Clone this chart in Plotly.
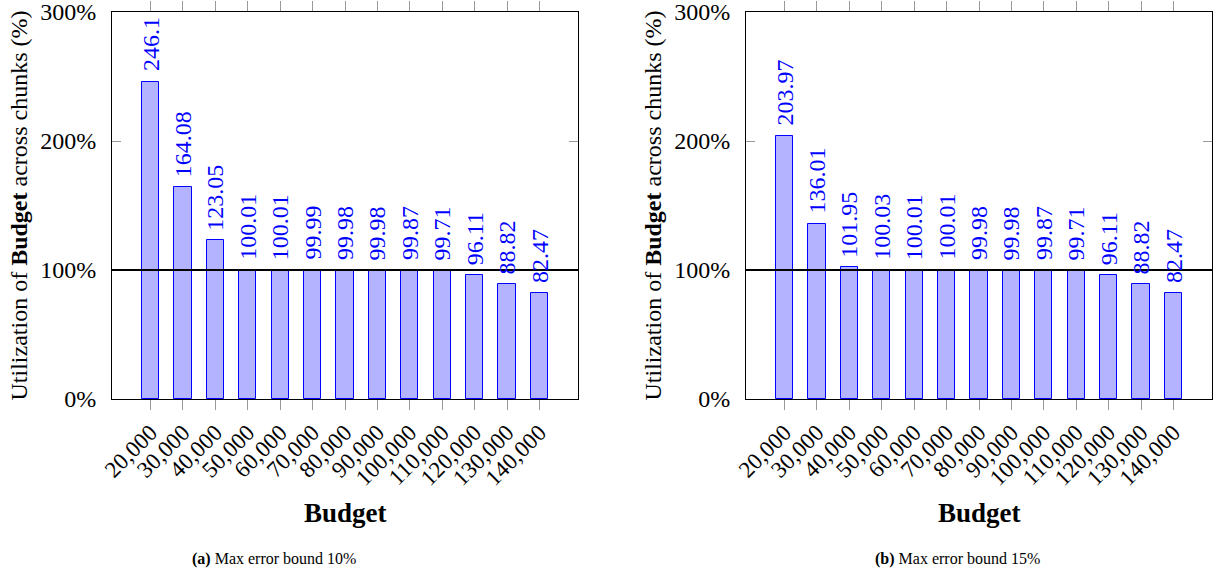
import plotly.graph_objects as go

budgets = ["20,000", "30,000", "40,000", "50,000", "60,000", "70,000", "80,000",
           "90,000", "100,000", "110,000", "120,000", "130,000", "140,000"]
util_10 = [246.1, 164.08, 123.05, 100.01, 100.01, 99.99, 99.98, 99.98, 99.87, 99.71, 96.11, 88.82, 82.47]
labels_10 = ["246.1", "164.08", "123.05", "100.01", "100.01", "99.99", "99.98", "99.98", "99.87", "99.71", "96.11", "88.82", "82.47"]
util_15 = [203.97, 136.01, 101.95, 100.03, 100.01, 100.01, 99.98, 99.98, 99.87, 99.71, 96.11, 88.82, 82.47]
labels_15 = ["203.97", "136.01", "101.95", "100.03", "100.01", "100.01", "99.98", "99.98", "99.87", "99.71", "96.11", "88.82", "82.47"]
y_ticks = [0, 100, 200, 300]
y_ticktext = ["0%", "100%", "200%", "300%"]
captions = ["<b>(a)</b> Max error bound 10%", "<b>(b)</b> Max error bound 15%"]
reference_line = 100

FONT = "Liberation Serif, Times New Roman, serif"
W, H = 1215, 572
ML, MR, MT, MB = 112, 3, 12, 173
PW, PH = W - ML - MR, H - MT - MB
idx = list(range(len(budgets)))


def px(x):
    return (x - ML) / PW


def py(y):
    return (H - MB - y) / PH


fig = go.Figure()

panels = [
    (util_10, labels_10, "x", "y", (112, 578), 274, captions[0]),
    (util_15, labels_15, "x2", "y2", (746, 1212), 957, captions[1]),
]

for vals, labs, xa, ya, (x0, x1), capx, cap in panels:
    fig.add_trace(go.Bar(
        x=idx, y=vals, xaxis=xa, yaxis=ya, width=0.53,
        marker=dict(color="#b3b3ff", line=dict(color="#0000ff", width=1)),
        showlegend=False, hoverinfo="skip",
    ))
    for i, (v, t) in enumerate(zip(vals, labs)):
        fig.add_annotation(
            x=i, y=v, xref=xa, yref=ya, text=t, showarrow=False,
            textangle=-90, yanchor="bottom", xanchor="center", yshift=8,
            font=dict(family=FONT, size=24, color="#0000ff"),
        )
    fig.add_shape(type="line", xref=f"{xa} domain", yref=ya,
                  x0=0, x1=1, y0=reference_line, y1=reference_line,
                  line=dict(color="black", width=2))
    fig.add_annotation(
        x=px((x0 + x1) / 2), y=py(513), xref="paper", yref="paper",
        xanchor="center", yanchor="middle",
        text="<b>Budget</b>", showarrow=False,
        font=dict(family=FONT, size=27, color="black"),
    )
    fig.add_annotation(
        x=px(x0 - 94), y=py((12 + 399) / 2), xref="paper", yref="paper",
        xanchor="center", yanchor="middle",
        text="Utilization of <b>Budget</b> across chunks (%)", showarrow=False,
        textangle=-90, font=dict(family=FONT, size=24, color="black"),
    )
    fig.add_annotation(
        x=px(capx), y=py(559), xref="paper", yref="paper",
        xanchor="center", yanchor="middle",
        text=cap, showarrow=False,
        font=dict(family=FONT, size=16, color="black"),
    )

xcommon = dict(
    tickmode="array", tickvals=idx, ticktext=budgets, tickangle=-45,
    range=[-1.19, 13.19], showline=True, linecolor="black", linewidth=1,
    mirror="ticks", ticks="outside", ticklen=10, tickcolor="#999999", tickwidth=1,
    showgrid=False, zeroline=False, automargin=False,
    tickfont=dict(family=FONT, size=23, color="black"),
)
ycommon = dict(
    tickmode="array", tickvals=y_ticks, ticktext=y_ticktext, range=[0, 300.0001],
    showline=True, linecolor="black", linewidth=1, mirror="ticks",
    ticks="inside", ticklen=9, tickcolor="#999999", tickwidth=1,
    showgrid=False, zeroline=False, ticklabelstandoff=10, automargin=False,
    ticklabeloverflow="allow",
    tickfont=dict(family=FONT, size=24, color="black"),
)

fig.update_layout(
    width=W, height=H, margin=dict(l=ML, r=MR, t=MT, b=MB, autoexpand=False),
    paper_bgcolor="white", plot_bgcolor="white",
    font=dict(family=FONT),
    xaxis=dict(domain=[0, px(578)], anchor="y", **xcommon),
    yaxis=dict(domain=[0, 1], anchor="x", **ycommon),
    xaxis2=dict(domain=[px(746), 1], anchor="y2", **xcommon),
    yaxis2=dict(domain=[0, 1], anchor="x2", **ycommon),
    bargap=0,
)

fig.write_html("out.html", config={"displayModeBar": False},
               post_script="document.body.style.margin='0';")
